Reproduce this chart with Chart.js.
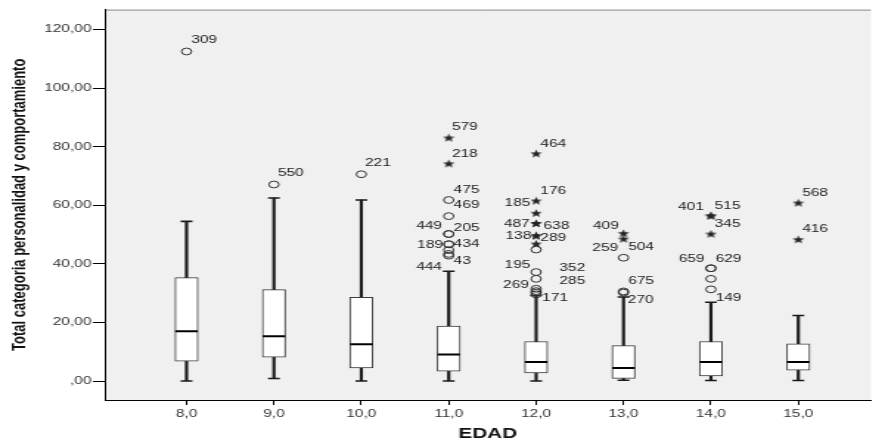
<!DOCTYPE html>
<html lang="es">

<head>
    <meta charset="UTF-8">
    <title>Total categoria personalidad y comportamiento por EDAD</title>
    <script src="https://cdn.jsdelivr.net/npm/chart.js"></script>
    <style>
        body { margin: 0; background: #ffffff; }
        .caja { width: 885px; height: 444px; overflow: hidden; }
        /* el grafico original esta estirado en horizontal */
        #grafico { transform: scaleX(1.475); transform-origin: 0 0; }
    </style>
</head>

<body>
    <div class="caja">
        <canvas id="grafico" width="600" height="444"></canvas>
    </div>

<script>
    // categorias del eje X
    const edades = [8, 9, 10, 11, 12, 13, 14, 15];
    const etiquetasX = ['8,0', '9,0', '10,0', '11,0', '12,0', '13,0', '14,0', '15,0'];

    // ticks del eje Y
    const ticksY = [0, 20, 40, 60, 80, 100, 120];
    const etiquetasY = [',00', '20,00', '40,00', '60,00', '80,00', '100,00', '120,00'];

    // resumen de cada caja
    const bigoteInf = [0, 0.9, 0, 0, 0, 0.3, 0.2, 0.2];
    const cuartil1 = [6.8, 8.2, 4.5, 3.4, 2.8, 0.9, 1.8, 3.7];
    const mediana = [17.0, 15.3, 12.6, 9.1, 6.5, 4.5, 6.5, 6.5];
    const cuartil3 = [35.3, 31.2, 28.6, 18.8, 13.5, 12.1, 13.5, 12.7];
    const bigoteSup = [54.5, 62.5, 61.8, 37.5, 29.2, 28.7, 26.9, 22.4];

    // casos atipicos ('o') y extremos ('*')
    const atipEdad = [8, 9, 10,
        11, 11, 11, 11, 11, 11, 11, 11, 11, 11, 11,
        12, 12, 12, 12, 12, 12, 12, 12, 12, 12, 12, 12, 12, 12, 12,
        13, 13, 13, 13, 13,
        14, 14, 14, 14, 14, 14, 14,
        15, 15];
    const atipValor = [112.5, 67.1, 70.6,
        83.0, 74.2, 61.8, 56.3, 50.2, 50.2, 46.7, 46.7, 44.7, 43.4, 42.8,
        77.6, 61.5, 57.3, 53.8, 53.8, 49.6, 49.6, 46.8, 44.9, 37.2, 34.9, 31.5, 30.7, 30.2, 29.6,
        50.4, 48.5, 42.1, 30.6, 30.2,
        56.4, 56.4, 50.2, 38.5, 38.5, 34.9, 31.3,
        60.8, 48.3];
    const atipTipo = ['o', 'o', 'o',
        '*', '*', 'o', 'o', 'o', 'o', 'o', 'o', 'o', 'o', 'o',
        '*', '*', '*', '*', '*', '*', '*', '*', 'o', 'o', 'o', 'o', 'o', 'o', 'o',
        '*', '*', 'o', 'o', 'o',
        '*', '*', '*', 'o', 'o', 'o', 'o',
        '*', '*'];
    const atipCaso = ['309', '550', '221',
        '579', '218', '475', '469', '449', '205', '189', '434', '', '43', '444',
        '464', '176', '185', '487', '638', '138', '289', '', '', '195', '352', '269', '285', '', '171',
        '409', '259', '504', '675', '270',
        '401', '515', '345', '659', '629', '', '149',
        '568', '416'];

    // desplazamiento de cada etiqueta respecto a su punto (px)
    const despEtiqueta = [[3.2, -11], [2.7, -11], [2.5, -10.7],
        [2.2, -10.7], [2.2, -10], [3.4, -10.3], [3.4, -11], [-4.5, -8.3], [3.4, -6], [-3.9, 0.8], [3.4, 0], [0, 0], [3.4, 7.4], [-4.5, 11],
        [2.9, -10], [2.9, -10], [-3.9, -9.6], [-4.3, 0.3], [5, 2.7], [-3.2, 0], [2.9, 2.7], [0, 0], [0, 0], [-3.9, -7.4], [15.8, -10.6], [-4.9, -4], [15.8, -10], [0, 0], [4.1, 3.7],
        [-3.2, -7.7], [-3.6, 9], [3.2, -10.6], [3.2, -10.3], [2.9, 7.8],
        [-4.7, -9], [2.5, -10], [2.5, -10], [-4.3, -8.7], [3.2, -9.4], [0, 0], [3.2, 8.7],
        [2.7, -10.3], [2.7, -10]];

    const fuente = 'Liberation Sans, Arial, sans-serif';
    Chart.defaults.font.family = fuente;

    // estrella rellena como estilo de punto
    function crearEstrella() {
        const c = document.createElement('canvas');
        c.width = 9;
        c.height = 9;
        const g = c.getContext('2d');
        g.fillStyle = '#222';
        g.beginPath();
        for (let i = 0; i < 10; i++) {
            const r = i % 2 == 0 ? 4.2 : 1.8;
            const a = -Math.PI / 2 + i * Math.PI / 5;
            g.lineTo(4.5 + r * Math.cos(a), 4.8 + r * Math.sin(a));
        }
        g.closePath();
        g.fill();
        return c;
    }
    const estrella = crearEstrella();

    function puntos(tipo) {
        const lista = [];
        for (let i = 0; i < atipEdad.length; i++) {
            if (atipTipo[i] == tipo) lista.push({ x: atipEdad[i], y: atipValor[i] });
        }
        return lista;
    }

    // fondo gris del area y linea superior
    const fondoArea = {
        id: 'fondoArea',
        beforeDraw(chart) {
            const { ctx, chartArea } = chart;
            ctx.save();
            ctx.fillStyle = '#f0f0f0';
            ctx.fillRect(chartArea.left, chartArea.top, chartArea.right - chartArea.left, chartArea.bottom - chartArea.top);
            ctx.strokeStyle = '#8a8a8a';
            ctx.lineWidth = 1;
            ctx.beginPath();
            ctx.moveTo(chartArea.left, chartArea.top + 0.5);
            ctx.lineTo(chartArea.right, chartArea.top + 0.5);
            ctx.stroke();
            ctx.restore();
        }
    };

    // numero de caso junto a cada atipico
    const etiquetasCasos = {
        id: 'etiquetasCasos',
        afterDatasetsDraw(chart) {
            const { ctx } = chart;
            const sx = chart.scales.x;
            const sy = chart.scales.y;
            ctx.save();
            ctx.font = '10.5px ' + fuente;
            ctx.fillStyle = '#222';
            ctx.textBaseline = 'middle';
            for (let i = 0; i < atipCaso.length; i++) {
                if (!atipCaso[i]) continue;
                const dx = despEtiqueta[i][0];
                const dy = despEtiqueta[i][1];
                ctx.textAlign = dx < 0 ? 'right' : 'left';
                ctx.fillText(atipCaso[i], sx.getPixelForValue(atipEdad[i]) + dx, sy.getPixelForValue(atipValor[i]) + dy);
            }
            ctx.restore();
        }
    };

    const config = {
        type: 'bar',
        data: {
            datasets: [{
                // bigotes
                data: edades.map((e, i) => ({ x: e, y: [bigoteInf[i], bigoteSup[i]] })),
                backgroundColor: '#1a1a1a',
                barThickness: 1.5,
                grouped: false,
                order: 5
            }, {
                // cajas
                data: edades.map((e, i) => ({ x: e, y: [cuartil1[i], cuartil3[i]] })),
                backgroundColor: '#ffffff',
                borderColor: '#3c3c3c',
                borderWidth: 1,
                borderSkipped: false,
                barThickness: 15.6,
                grouped: false,
                order: 4
            }, {
                type: 'scatter',
                data: edades.map((e, i) => ({ x: e, y: mediana[i] })),
                pointStyle: 'line',
                pointRadius: 7.6,
                pointBorderWidth: 2,
                pointBorderColor: '#000',
                order: 3
            }, {
                type: 'scatter',
                data: edades.map((e, i) => ({ x: e, y: bigoteSup[i] })).concat(edades.map((e, i) => ({ x: e, y: bigoteInf[i] }))),
                pointStyle: 'line',
                pointRadius: 4,
                pointBorderWidth: 1.6,
                pointBorderColor: '#1a1a1a',
                order: 3
            }, {
                type: 'scatter',
                data: puntos('o'),
                pointStyle: 'circle',
                pointRadius: 3.4,
                pointBorderWidth: 1,
                pointBorderColor: '#333',
                pointBackgroundColor: 'rgba(0,0,0,0)',
                order: 1
            }, {
                type: 'scatter',
                data: puntos('*'),
                pointStyle: estrella,
                pointRadius: 4,
                order: 1
            }]
        },
        options: {
            responsive: false,
            devicePixelRatio: 1,
            animation: false,
            events: [],
            layout: { padding: { top: 8, left: 0, right: 0, bottom: 0 } },
            plugins: {
                legend: { display: false },
                tooltip: { enabled: false }
            },
            scales: {
                x: {
                    type: 'linear',
                    min: 7.064,
                    max: 15.83,
                    offset: false,
                    afterBuildTicks: (s) => { s.ticks = edades.map(v => ({ value: v })); },
                    afterFit: (s) => { s.height = 44; },
                    grid: { offset: false, drawOnChartArea: false, drawTicks: true, tickLength: 5, color: '#000' },
                    border: { display: true, color: '#000', width: 1 },
                    ticks: {
                        padding: 3,
                        color: '#333',
                        font: { size: 10.5 },
                        maxRotation: 0,
                        callback: (v) => etiquetasX[edades.indexOf(v)]
                    },
                    title: {
                        display: true,
                        text: 'EDAD',
                        color: '#111',
                        font: { size: 14, weight: 'bold' },
                        padding: { top: 0, bottom: 1.4 }
                    }
                },
                y: {
                    type: 'linear',
                    min: -6.46,
                    max: 126.8,
                    afterBuildTicks: (s) => { s.ticks = ticksY.map(v => ({ value: v })); },
                    afterFit: (s) => { s.width = 71; },
                    grid: { drawOnChartArea: false, drawTicks: true, tickLength: 8, color: '#000' },
                    border: { display: true, color: '#000', width: 1 },
                    ticks: {
                        padding: 1,
                        color: '#333',
                        font: { size: 10.5 },
                        callback: (v) => etiquetasY[ticksY.indexOf(v)]
                    },
                    title: {
                        display: true,
                        text: 'Total categoria personalidad y comportamiento',
                        color: '#111',
                        font: { size: 13, weight: 'bold' },
                        padding: { top: 5.8, bottom: 0 }
                    }
                }
            }
        },
        plugins: [fondoArea, etiquetasCasos]
    };

    let grafico = new Chart(document.getElementById('grafico'), config);
</script>
</body>

</html>
